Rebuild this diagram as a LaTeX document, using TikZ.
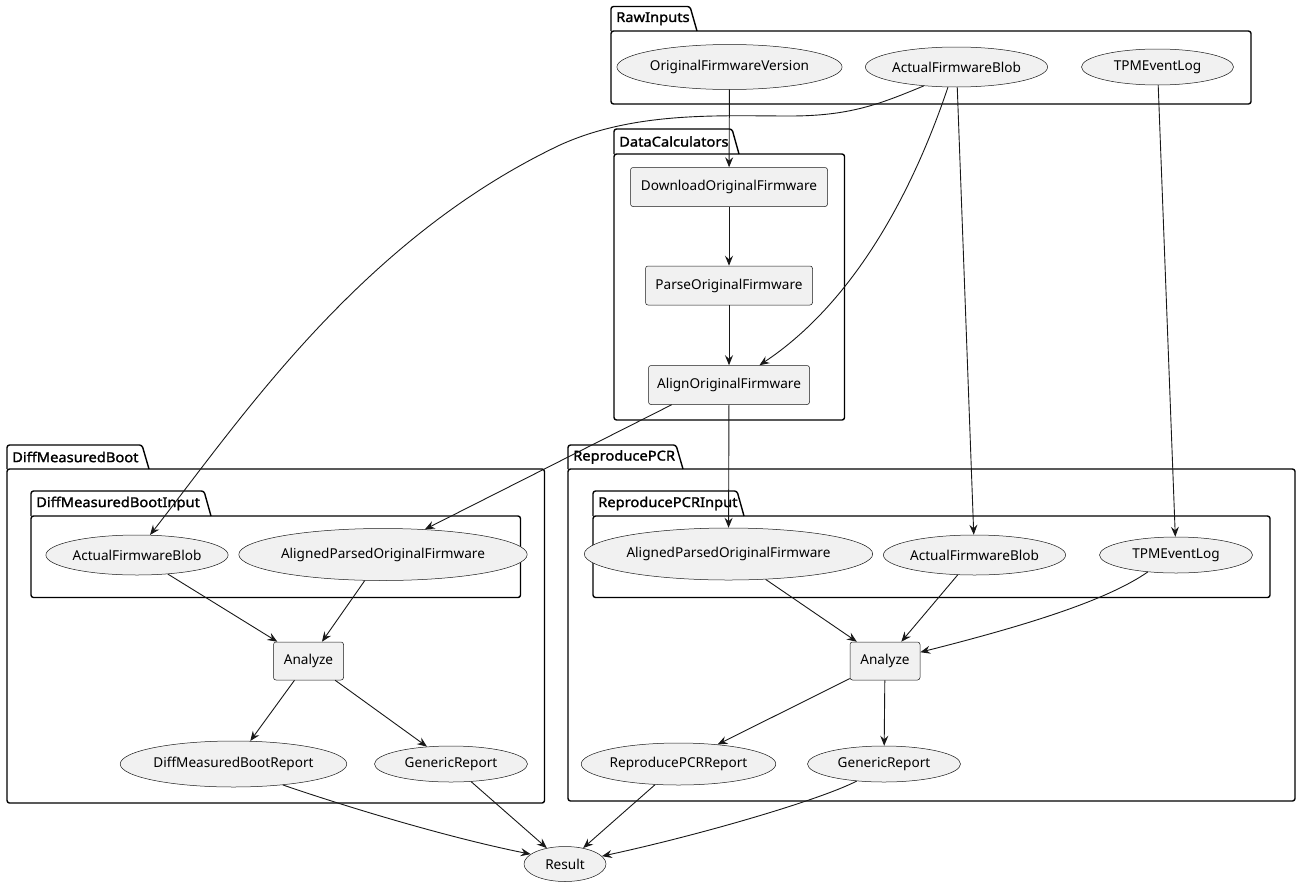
\documentclass[tikz,border=0pt]{standalone}
\usepackage{fontspec}
\setmainfont{Noto Sans}
\newfontfamily\pkgfont{Noto Sans}[FakeBold=1.6, FakeStretch=1.08]
\usetikzlibrary{shapes.geometric,arrows.meta}
\definecolor{nodefill}{HTML}{F1F1F1}
\definecolor{nodeline}{HTML}{181818}
\newcommand\pkgdraw[8]{%
  \draw[pkgline] (#2,#5) -- (#6,#5) -- (#6,#7) -- (#2,#7) -- cycle;
  \draw[pkgline] (#2,#5) -- (#2,#3) -- (#4,#3) -- ({#4+7},#5);
  \node[pkglabel] (#1) at ({#2+5},{(#3+#5)/2}) {#8};
}
\begin{document}
\begin{tikzpicture}[x=1pt,y=-1pt,
  uc/.style={ellipse, draw=nodeline, line width=0.5pt, fill=nodefill, inner sep=0pt,
    font=\fontsize{13.6}{16}\selectfont},
  comp/.style={rectangle, rounded corners=2.5pt, draw=nodeline, line width=0.5pt, fill=nodefill,
    inner sep=0pt, font=\fontsize{13.6}{16}\selectfont},
  edge/.style={draw=nodeline, line width=0.9pt, -{Stealth[length=10pt,width=8pt,inset=3.5pt]}},
  pkgline/.style={draw=black, line width=1.4pt, line join=round, rounded corners=2.5pt},
  pkglabel/.style={anchor=west, inner sep=0pt, font=\pkgfont\fontsize{13.6}{16}\selectfont}
]
\useasboundingbox (0,0) rectangle (1300,886);

% packages
\pkgdraw{pRaw}{611}{6.5}{690}{31}{1251}{104}{RawInputs}
\pkgdraw{pCalc}{614}{129}{732}{154}{844.5}{420}{DataCalculators}
\pkgdraw{pDiff}{7}{445}{142}{469}{544.5}{803}{DiffMeasuredBoot}
\pkgdraw{pDiffIn}{31}{491}{204}{516}{520.5}{597.5}{DiffMeasuredBootInput}
\pkgdraw{pRepro}{568}{445}{676}{469}{1295}{801}{ReproducePCR}
\pkgdraw{pReproIn}{593}{491}{737}{516}{1270}{597.5}{ReproducePCRInput}

% raw inputs
\node[uc, minimum width=205pt, minimum height=45pt] (ofv) at (729.5,67) {OriginalFirmwareVersion};
\node[uc, minimum width=181pt, minimum height=40pt] (rawafb) at (956.5,67) {ActualFirmwareBlob};
\node[uc, minimum width=152pt, minimum height=36pt] (rawtpm) at (1157.5,67) {TPMEventLog};

% data calculators
\node[comp, minimum width=197pt, minimum height=39pt] (dl) at (729,187) {DownloadOriginalFirmware};
\node[comp, minimum width=167pt, minimum height=39pt] (parse) at (729,285.5) {ParseOriginalFirmware};
\node[comp, minimum width=161pt, minimum height=39pt] (align) at (729,385) {AlignOriginalFirmware};

% diff measured boot
\node[uc, minimum width=181pt, minimum height=40pt] (dafb) at (137,555) {ActualFirmwareBlob};
\node[uc, minimum width=240pt, minimum height=52pt] (dapof) at (383,554.5) {AlignedParsedOriginalFirmware};
\node[comp, minimum width=70pt, minimum height=38pt] (dan) at (308.5,661) {Analyze};
\node[uc, minimum width=211pt, minimum height=46pt] (ddmbr) at (233.5,764) {DiffMeasuredBootReport};
\node[uc, minimum width=153pt, minimum height=36pt] (dgr) at (451,764) {GenericReport};

% reproduce pcr
\node[uc, minimum width=241pt, minimum height=52pt] (rapof) at (728.5,554) {AlignedParsedOriginalFirmware};
\node[uc, minimum width=181pt, minimum height=40pt] (rafb) at (974.5,555) {ActualFirmwareBlob};
\node[uc, minimum width=153pt, minimum height=36pt] (rtpm) at (1176,555) {TPMEventLog};
\node[comp, minimum width=70pt, minimum height=38pt] (ran) at (885,661) {Analyze};
\node[uc, minimum width=189pt, minimum height=42pt] (rrpcr) at (678.5,764) {ReproducePCRReport};
\node[uc, minimum width=153pt, minimum height=36pt] (rgr) at (884,764) {GenericReport};

% result
\node[uc, minimum width=82pt, minimum height=35pt] (result) at (565,864) {Result};

% edges
\draw[edge] (ofv) -- (dl);
\draw[edge] (dl) -- (parse);
\draw[edge] (parse) -- (align);
\draw[edge] (rawafb.210) .. controls (880,104) and (850,116) .. (790,116)
  .. controls (720,116) and (635,111) .. (560,145)
  .. controls (360,240) and (240,420) .. (dafb.57);
\draw[edge] (rawafb.247) .. controls (910,200) and (850,305) .. (align.33);
\draw[edge] (rawafb) -- (rafb);
\draw[edge] (rawtpm) -- (rtpm);
\draw[edge] (align.-161) -- (dapof.31);
\draw[edge] (align) -- (rapof);

\draw[edge] (dafb) -- (dan);
\draw[edge] (dapof) -- (dan);
\draw[edge] (dan) -- (ddmbr);
\draw[edge] (dan) -- (dgr);
\draw[edge] (ddmbr.-23) .. controls (350,808) and (450,838) .. (result.164);
\draw[edge] (dgr) -- (result);

\draw[edge] (rapof) -- (ran);
\draw[edge] (rafb) -- (ran);
\draw[edge] (rtpm.211) .. controls (1110,598) and (1040,622) .. (ran.14);
\draw[edge] (ran) -- (rrpcr);
\draw[edge] (ran) -- (rgr);
\draw[edge] (rrpcr) -- (result);
\draw[edge] (rgr.212) .. controls (820,800) and (700,835) .. (result.12);
\end{tikzpicture}
\end{document}
